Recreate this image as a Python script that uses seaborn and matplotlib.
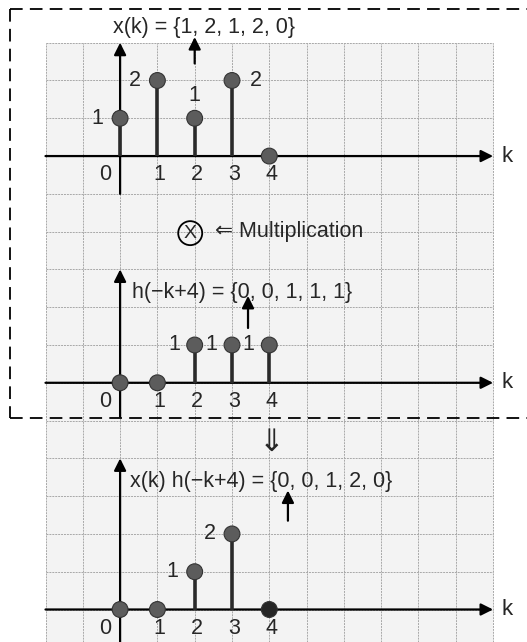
import pandas as pd
import matplotlib.pyplot as plt
import seaborn as sns

# data
k = [0, 1, 2, 3, 4]
x_vals = [1, 2, 1, 2, 0]
h_vals = [0, 0, 1, 1, 1]
prod_vals = [0, 0, 1, 2, 0]
titles = ["x(k) = {1, 2, 1, 2, 0}",
          "h(\u2212k+4) = {0, 0, 1, 1, 1}",
          "x(k) h(\u2212k+4) = {0, 0, 1, 2, 0}"]
tick_labels = ["0", "1", "2", "3", "4"]


def build_frame():
    rows = []
    for p, vals in enumerate([x_vals, h_vals, prod_vals]):
        for kk, v in zip(k, vals):
            rows.append({"panel": p, "k": kk, "value": v})
    return pd.DataFrame(rows)


def main():
    sns.set_style("white")
    plt.rcParams["font.family"] = ["Liberation Sans", "DejaVu Sans"]

    df = build_frame()
    offsets = [0, -6, -12]  # baseline of each panel (grid units)
    # label offsets (dx, dy) for value labels per panel
    lab_off = [
        [(-0.6, 0), (-0.6, 0), (0, 0.6), (0.65, 0), None],
        [None, None, (-0.55, 0), (-0.55, 0), (-0.55, 0)],
        [None, None, (-0.6, 0), (-0.6, 0), None],
    ]
    title_pos = [(-0.2, 3.4), (0.32, -3.6), (0.27, -8.62)]
    arrow_pos = [(2.0, 2.45, 3.15), (3.43, -4.55, -3.7), (4.5, -9.65, -8.85)]
    yaxis_ext = [(-1.0, 3.0), (-6.9, -3.0), (-12.9, -8.0)]

    fig = plt.figure(figsize=(5.27, 6.42), dpi=100)
    ax = fig.add_axes([0, 0, 1, 1])
    ax.set_xlim(-3.22, 10.91)
    ax.set_ylim(-12.86, 4.13)
    ax.axis("off")

    # grid paper
    ax.fill_between([-2, 10], -12.86, 3, color="#f3f3f3", zorder=0, lw=0)
    ax.vlines(range(-2, 11), -12.86, 3, colors="#a8a8a8", lw=0.7,
              linestyles=(0, (2, 1)), zorder=1)
    ax.hlines(range(-12, 4), -2, 10, colors="#a8a8a8", lw=0.7,
              linestyles=(0, (2, 1)), zorder=1)

    arr = dict(arrowstyle="-|>", color="black", lw=1.6, mutation_scale=18,
               shrinkA=0, shrinkB=0)
    fs = 15.5

    for p in range(3):
        base = offsets[p]
        sub = df[df["panel"] == p].copy()
        sub["y"] = sub["value"] + base

        # axes with arrowheads
        ax.annotate("", xy=(10, base), xytext=(-2, base), arrowprops=arr, zorder=3)
        y0, y1 = yaxis_ext[p]
        ax.annotate("", xy=(0, y1), xytext=(0, y0), arrowprops=arr, zorder=3)
        ax.text(10.22, base, "k", fontsize=16, va="center", ha="left")

        # stems
        ax.vlines(sub["k"], base, sub["y"], colors="#2a2a2a", lw=2.6, zorder=4)
        colors = ["#5c5c5c"] * 5
        if p == 2:
            colors[4] = "#262626"
        sns.scatterplot(data=sub, x="k", y="y", ax=ax, s=130, c=colors,
                        edgecolor="#333333", linewidth=0.8, zorder=5, legend=False)

        # value labels
        for i, row in enumerate(sub.itertuples()):
            off = lab_off[p][i]
            if off is None:
                continue
            ax.text(row.k + off[0], row.y + off[1], str(row.value), fontsize=fs,
                    ha="center", va="center", zorder=6)

        # tick labels
        for kk, lbl in zip(k, tick_labels):
            dx = -0.4 if kk == 0 else 0.05
            ax.text(kk + dx, base - 0.5, lbl, fontsize=fs, ha="center", va="center")

        # title and pointer arrow
        tx, ty = title_pos[p]
        ax.text(tx, ty, titles[p], fontsize=fs, ha="left", va="center", zorder=6)
        axp, ya, yb = arrow_pos[p]
        ax.annotate("", xy=(axp, yb), xytext=(axp, ya), arrowprops=arr, zorder=6)

    # multiplication sign
    ax.text(1.88, -2.04, "X", fontsize=14, ha="center", va="center",
            bbox=dict(boxstyle="circle,pad=0.18", fc="none", ec="black", lw=1.3))
    ax.text(2.55, -2.0, "\u21d0 Multiplication", fontsize=fs, ha="left", va="center")

    # double down arrow between sections
    ax.text(4.07, -7.6, "\u21d3", fontsize=22, ha="center", va="center")

    # dashed box around the first two panels
    dash = dict(color="black", lw=1.3, linestyle=(0, (7, 4)))
    ax.plot([-2.95, 11], [3.9, 3.9], **dash)
    ax.plot([-2.95, 11], [-6.93, -6.93], **dash)
    ax.plot([-2.95, -2.95], [3.9, -6.93], **dash)

    fig.savefig("out.png", dpi=100)


if __name__ == "__main__":
    main()
